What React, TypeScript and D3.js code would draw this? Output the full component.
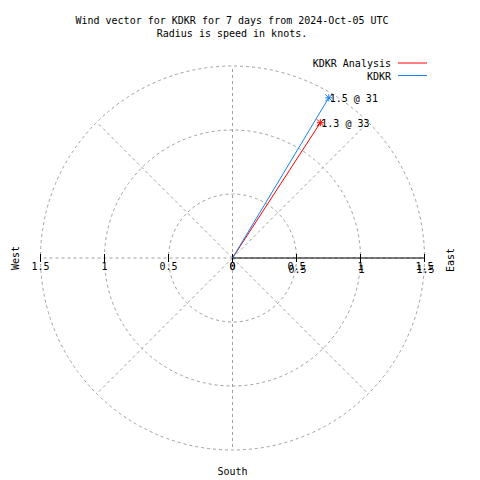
import React from "react";
import * as d3 from "d3";

const titleLines = ["Wind vector for KDKR for 7 days from 2024-Oct-05 UTC", "Radius is speed in knots."];
const seriesNames = ["KDKR Analysis", "KDKR"];
const seriesSpeeds = [1.26, 1.46];
const seriesDirections = [33, 31];
const seriesColors = ["#ff0000", "#1a7ff0"];
const ringValues = [0.5, 1, 1.5];
const tickValues = [0, 0.5, 1, 1.5];
const spokeAngles = [0, 45, 90, 135, 180, 225, 270, 315];

const W = 480, H = 480;
const cx = 232.5, cy = 258;
const FONT = "'DejaVu Sans Mono', 'Liberation Mono', monospace";

export default function App() {
  const r = d3.scaleLinear().domain([0, 1.5]).range([0, 192]);
  const grid = "#a0a0a0";
  const dash = "3,3";
  const pt = (speed: number, dir: number) => {
    const a = (dir * Math.PI) / 180;
    return [cx + r(speed) * Math.sin(a), cy - r(speed) * Math.cos(a)];
  };
  const fmt = (v: number) => d3.format("")(v);
  return (
    <svg width={W} height={H} style={{ position: "absolute", left: 0, top: 0, background: "#fff" }} fontFamily={FONT} fontSize={10}>
      <rect width={W} height={H} fill="#fff" />
      {titleLines.map((t, i) => (
        <text key={t} x={232} y={24 + i * 12.5} textAnchor="middle" fill="#000">{t}</text>
      ))}
      {ringValues.map((v) => (
        <circle key={v} cx={cx} cy={cy} r={r(v)} fill="none" stroke={grid} strokeDasharray={dash} />
      ))}
      {spokeAngles.map((a) => {
        const [x, y] = pt(1.5, a);
        return <line key={a} x1={cx} y1={cy} x2={x} y2={y} stroke={grid} strokeDasharray={dash} />;
      })}
      {/* east axis solid */}
      <line x1={cx} y1={cy} x2={cx + r(1.5)} y2={cy} stroke="#000" strokeWidth={1.2} />
      {tickValues.map((v) => (
        <g key={"t" + v}>
          <line x1={cx + r(v)} x2={cx + r(v)} y1={cy - 4} y2={cy + 4} stroke="#000" />
          <line x1={cx - r(v)} x2={cx - r(v)} y1={cy - 4} y2={cy + 4} stroke="#000" />
          <text x={cx - r(v)} y={cy + 12} textAnchor="middle" fill="#000">{fmt(v)}</text>
          <text x={cx + r(v)} y={cy + 12} textAnchor="middle" fill="#000">{fmt(v)}</text>
          {v > 0 && <text x={cx + r(v) + 1} y={cy + 14.5} textAnchor="middle" fill="#000">{fmt(v)}</text>}
        </g>
      ))}
      <text x={cx} y={475} textAnchor="middle" fill="#000">South</text>
      <text transform={`translate(19,${cy}) rotate(-90)`} textAnchor="middle" fill="#000">West</text>
      <text transform={`translate(454,${cy + 2}) rotate(-90)`} textAnchor="middle" fill="#000">East</text>
      {seriesNames.map((n, i) => {
        const [x, y] = pt(seriesSpeeds[i], seriesDirections[i]);
        const c = seriesColors[i];
        const s = 3.5;
        return (
          <g key={n}>
            <line x1={cx} y1={cy} x2={x} y2={y} stroke={c} />
            <line x1={x - s} x2={x + s} y1={y} y2={y} stroke={c} />
            <line x1={x} x2={x} y1={y - s} y2={y + s} stroke={c} />
            <line x1={x - s} x2={x + s} y1={y - s} y2={y + s} stroke={c} />
            <line x1={x - s} x2={x + s} y1={y + s} y2={y - s} stroke={c} />
            <text x={x + 1} y={y + 4} fill="#000">{`${seriesSpeeds[i].toFixed(1)} @ ${seriesDirections[i]}`}</text>
            <text x={391} y={67 + i * 12.5} textAnchor="end" fill="#000">{n}</text>
            <line x1={398} x2={427} y1={63 + i * 12.5} y2={63 + i * 12.5} stroke={c} />
          </g>
        );
      })}
    </svg>
  );
}
